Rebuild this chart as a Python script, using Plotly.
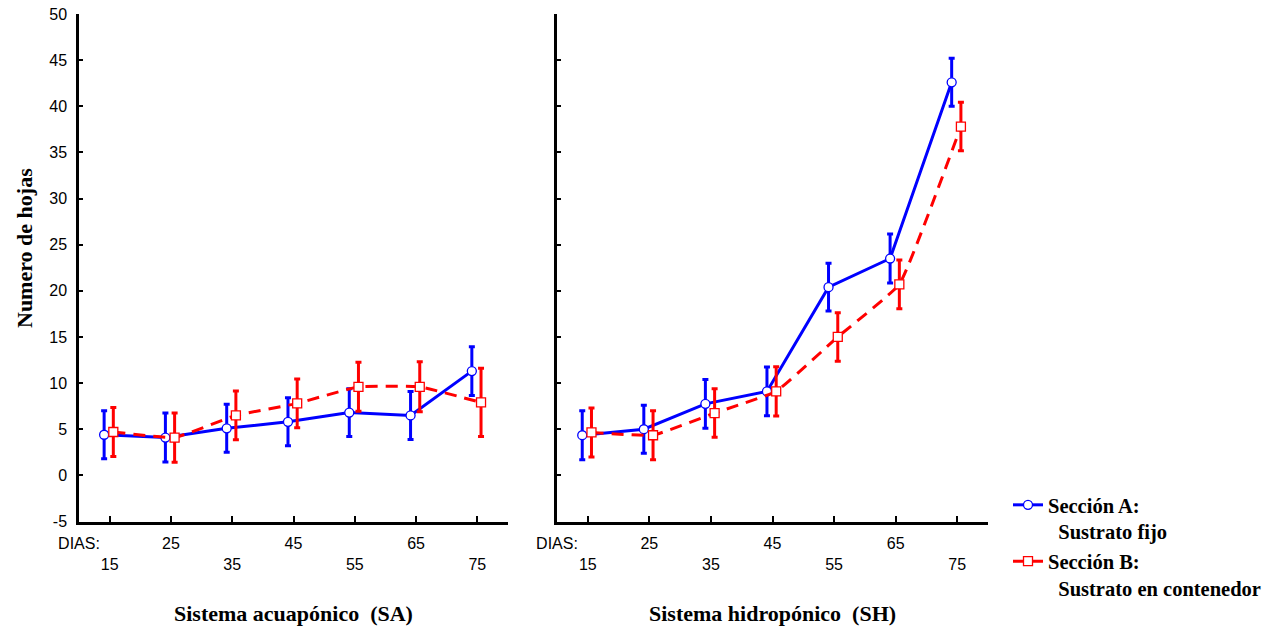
import plotly.graph_objects as go

# ---- data ----
days = [15, 25, 35, 45, 55, 65, 75]

sa_A = [4.4, 4.1, 5.1, 5.8, 6.8, 6.5, 11.3]
sa_A_err = [2.6, 2.65, 2.6, 2.6, 2.6, 2.6, 2.65]
sa_B = [4.7, 4.1, 6.5, 7.8, 9.6, 9.6, 7.9]
sa_B_err = [2.65, 2.67, 2.63, 2.63, 2.65, 2.7, 3.7]

sh_A = [4.35, 5.0, 7.75, 9.1, 20.4, 23.5, 42.6]
sh_A_err = [2.65, 2.6, 2.65, 2.65, 2.6, 2.65, 2.6]
sh_B = [4.65, 4.35, 6.75, 9.1, 15.0, 20.7, 37.8]
sh_B_err = [2.66, 2.66, 2.63, 2.66, 2.63, 2.65, 2.63]

tick_vals = [10, 15, 25, 35, 45, 55, 65, 75]
tick_text = ["DIAS:", "<br>15", "25", "<br>35", "45", "<br>55", "65", "<br>75"]
y_ticks = [-5, 0, 5, 10, 15, 20, 25, 30, 35, 40, 45, 50]
y_tick_text = ["-5", "0", "5", "10", "15", "20", "25", "30", "35", "40", "45", "50"]

name_A = "Sección A:<br>\u00a0\u00a0Sustrato fijo"
name_B = "Sección B:<br>\u00a0\u00a0Sustrato en contenedor"

BLUE = "#0000ff"
RED = "#ff0000"
off_A, off_B = -0.9, 0.6

W, H = 1285, 628

fig = go.Figure()


def add_pair(A, Aerr, B, Berr, xa, ya, show):
    fig.add_trace(go.Scatter(
        x=[d + off_A for d in days], y=A, mode="lines+markers", name=name_A,
        line=dict(color=BLUE, width=3),
        marker=dict(symbol="circle", size=9, color="white", line=dict(color=BLUE, width=1.3)),
        error_y=dict(type="data", array=Aerr, visible=True, color=BLUE, thickness=3, width=3),
        xaxis=xa, yaxis=ya, showlegend=show, legendrank=1))
    fig.add_trace(go.Scatter(
        x=[d + off_B for d in days], y=B, mode="lines+markers", name=name_B,
        line=dict(color=RED, width=3, dash="12px,8px", shape="spline", smoothing=0.3),
        marker=dict(symbol="square", size=9, color="white", line=dict(color=RED, width=1.3)),
        error_y=dict(type="data", array=Berr, visible=True, color=RED, thickness=3, width=3),
        xaxis=xa, yaxis=ya, showlegend=show, legendrank=2))


add_pair(sa_A, sa_A_err, sa_B, sa_B_err, "x", "y", True)
add_pair(sh_A, sh_A_err, sh_B, sh_B_err, "x2", "y2", False)

ydom = [1 - 521.5 / H, 1 - 14 / H]
tickfont = dict(family="Liberation Sans, Arial", size=16, color="black")
serif = dict(family="Liberation Serif, Times New Roman", size=22, color="black", weight="bold")
legfont = dict(family="Liberation Serif, Times New Roman", size=20.5, color="black", weight="bold")

xcommon = dict(range=[10, 80], tickmode="array", tickvals=tick_vals, ticktext=tick_text,
               tickangle=0, automargin=False, ticklabelstandoff=6,
               ticks="inside", ticklen=6, tickwidth=2, tickcolor="black",
               showline=True, linewidth=2.5, linecolor="black", showgrid=False, zeroline=False,
               tickfont=tickfont, fixedrange=True)
ycommon = dict(range=[-5, 50], tickmode="array", tickvals=y_ticks, ticktext=y_tick_text,
               domain=ydom, automargin=False, ticklabelstandoff=6,
               ticks="inside", ticklen=4, tickwidth=2, tickcolor="black",
               showline=True, linewidth=2.5, linecolor="black", showgrid=False, zeroline=False,
               tickfont=tickfont, fixedrange=True)

fig.update_layout(
    width=W, height=H,
    margin=dict(l=0, r=0, t=0, b=0, autoexpand=False),
    paper_bgcolor="white", plot_bgcolor="white",
    xaxis=dict(domain=[79 / W, 508 / W], anchor="y", **xcommon),
    yaxis=dict(anchor="x", **ycommon),
    xaxis2=dict(domain=[557 / W, 988 / W], anchor="y2", **xcommon),
    yaxis2=dict(anchor="x2", showticklabels=False, **ycommon),
    legend=dict(x=1008 / W, y=1 - 485 / H, xanchor="left", yanchor="top",
                valign="top", bgcolor="rgba(0,0,0,0)", borderwidth=0,
                font=legfont, itemwidth=30, tracegroupgap=0),
    showlegend=True,
    annotations=[
        dict(text="Sistema acuapónico\u00a0\u00a0(SA)", x=(79 + 508) / 2 / W, y=1 - 613 / H,
             xref="paper", yref="paper", showarrow=False, xanchor="center", yanchor="middle",
             font=serif),
        dict(text="Sistema hidropónico\u00a0\u00a0(SH)", x=(557 + 988) / 2 / W, y=1 - 613 / H,
             xref="paper", yref="paper", showarrow=False, xanchor="center", yanchor="middle",
             font=serif),
        dict(text="Numero de hojas", x=24 / W, y=1 - 248 / H, textangle=-90,
             xref="paper", yref="paper", showarrow=False, xanchor="center", yanchor="middle",
             font=serif),
    ],
)

fig.write_html("out.html", config={"displayModeBar": False},
               post_script="document.body.style.margin='0';document.body.style.overflow='hidden';")
